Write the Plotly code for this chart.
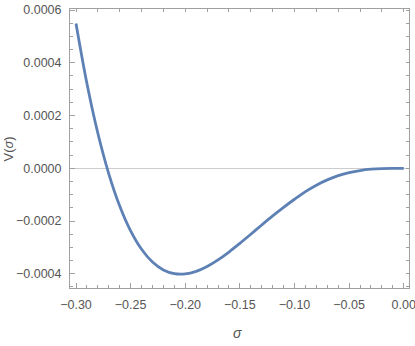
import plotly.graph_objects as go

sigma = [-0.30, -0.29, -0.28, -0.27, -0.26, -0.25, -0.24, -0.23, -0.22, -0.21,
         -0.20, -0.19, -0.18, -0.17, -0.16, -0.15, -0.14, -0.13, -0.12, -0.11,
         -0.10, -0.09, -0.08, -0.07, -0.06, -0.05, -0.04, -0.03, -0.02, -0.01, 0.00]
V = [0.0005489, 0.0003213, 0.0001327, -0.0000209, -0.0001431, -0.0002374, -0.0003072,
     -0.0003556, -0.0003855, -0.0003997, -0.0004007, -0.0003909, -0.0003725, -0.0003475,
     -0.0003177, -0.0002847, -0.0002501, -0.0002151, -0.0001808, -0.0001482, -0.0001175,
     -0.0000885, -0.0000640, -0.0000440, -0.0000280, -0.0000165, -0.0000085, -0.0000035,
     -0.0000010, -0.0000002, 0.0]

x_ticks = [-0.30, -0.25, -0.20, -0.15, -0.10, -0.05, 0.00]
y_ticks = [-0.0004, -0.0002, 0.0, 0.0002, 0.0004, 0.0006]

font_fam = "Liberation Sans Narrow, Arial Narrow, Liberation Sans, Arial, sans-serif"
frame_col = "#a0a0a0"
lab_col = "#555555"
xr = [-0.3055, 0.0048]
yr = [-0.000454, 0.000604]

fig = go.Figure()
fig.add_trace(go.Scatter(x=sigma, y=V, mode="lines",
                         line=dict(color="#5E81B5", width=2.8, shape="spline", smoothing=1.0),
                         showlegend=False))
fig.add_trace(go.Scatter(x=xr, y=yr, xaxis="x2", yaxis="y2", mode="markers",
                         marker=dict(opacity=0), showlegend=False, hoverinfo="skip"))

fig.update_layout(
    width=415, height=346,
    margin=dict(l=70, r=6, t=9, b=58),
    paper_bgcolor="white", plot_bgcolor="white",
    font=dict(family=font_fam, size=12.5, color=lab_col),
    xaxis=dict(range=xr, tickvals=x_ticks, tickformat=".2f", ticks="inside", ticklen=5,
               tickcolor=frame_col, showline=True, linecolor=frame_col, linewidth=1,
               mirror=True, showgrid=False, zeroline=False, automargin=False,
               ticklabelstandoff=5, ticklabeloverflow="allow",
               minor=dict(dtick=0.01, tick0=0, ticks="inside", ticklen=3, tickcolor=frame_col, showgrid=False)),
    yaxis=dict(range=yr, tickvals=y_ticks, tickformat=".4f", ticks="inside", ticklen=5,
               tickcolor=frame_col, showline=True, linecolor=frame_col, linewidth=1,
               mirror=True, showgrid=False, zeroline=True, zerolinecolor="#cccccc", zerolinewidth=1,
               automargin=False, ticklabelstandoff=5, ticklabeloverflow="allow",
               minor=dict(dtick=0.00005, tick0=0, ticks="inside", ticklen=3, tickcolor=frame_col, showgrid=False)),
    xaxis2=dict(range=xr, overlaying="x", side="top", anchor="y", dtick=0.02, tick0=0,
                ticks="inside", ticklen=3, tickcolor=frame_col, showticklabels=False,
                showgrid=False, zeroline=False, showline=False, automargin=False),
    yaxis2=dict(range=yr, overlaying="y", side="right", anchor="x", dtick=0.00005, tick0=0,
                ticks="inside", ticklen=3, tickcolor=frame_col, showticklabels=False,
                showgrid=False, zeroline=False, showline=False, automargin=False),
)

fig.add_annotation(text="V(<i>σ</i>)", xref="paper", yref="paper", x=-0.18, y=0.5,
                   xanchor="center", yanchor="middle", textangle=-90, showarrow=False,
                   font=dict(family=font_fam, size=13, color=lab_col))
fig.add_annotation(text="<i>σ</i>", xref="paper", yref="paper", x=0.495, y=-0.161,
                   xanchor="center", yanchor="middle", showarrow=False,
                   font=dict(family=font_fam, size=14, color=lab_col))

fig.write_html("out.html", config={"displayModeBar": False},
               post_script="document.body.style.margin='0px';document.body.style.overflow='hidden';")
